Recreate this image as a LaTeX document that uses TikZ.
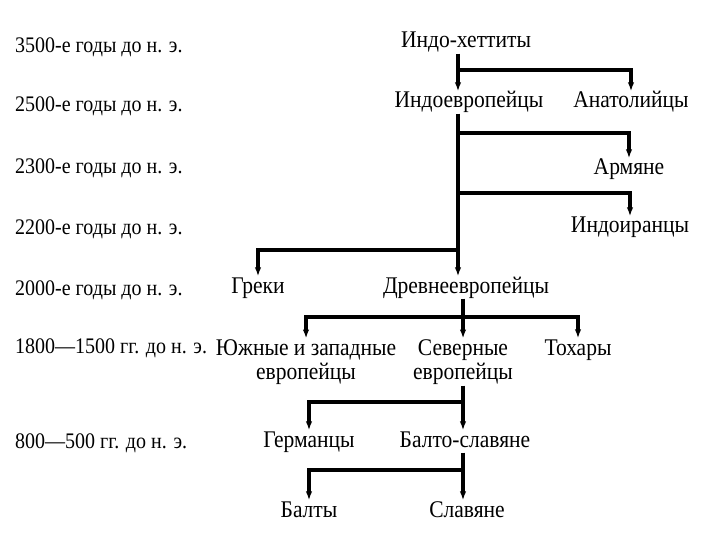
\documentclass[tikz,border=0pt]{standalone}
\usepackage{fontspec}
\setmainfont[FakeStretch=0.9]{Liberation Serif}
\usetikzlibrary{arrows.meta, positioning, calc}
\tikzstyle{tribe} = [anchor=base, inner sep=0.5pt, text height=16pt, text depth=5pt, font=\fontsize{24}{25}\selectfont, align=center]
\tikzstyle{tribe2} = [tribe, anchor=north, text height=, text depth=]
\tikzstyle{era} = [anchor=base west, inner sep=0pt, font=\fontsize{22.3}{24}\selectfont]
\tikzstyle{bar} = [line width=3.4pt]
\tikzstyle{link} = [bar, -{Latex[length=9pt,width=6.5pt]}]

\begin{document}
\begin{tikzpicture}[x=1bp, y=-1bp]
  \useasboundingbox[fill=white] (0,0) rectangle (720,540);

  % time scale
  \node[era] (e1) at (15,53) {3500-е годы до н. э.};
  \node[era] (e2) at (15,112) {2500-е годы до н. э.};
  \node[era] (e3) at (15,174) {2300-е годы до н. э.};
  \node[era] (e4) at (15,235) {2200-е годы до н. э.};
  \node[era] (e5) at (15,295) {2000-е годы до н. э.};
  \node[era] (e6) at (15,353) {1800—1500 гг. до н. э.};
  \node[era] (e7) at (15,448) {800—500 гг. до н. э.};

  % peoples
  \node[tribe] (ih) at (466,48) {Индо-хеттиты};
  \node[tribe] (ie) at (469,108) {Индоевропейцы};
  \node[tribe] (an) at (631,108) {Анатолийцы};
  \node[tribe] (ar) at (629,175) {Армяне};
  \node[tribe] (ii) at (630,233) {Индоиранцы};
  \node[tribe] (gr) at (258,293) {Греки};
  \node[tribe] (de) at (466,293) {Древнеевропейцы};
  \node[tribe2] (yu) at (306,338.5) {Южные и западные\\европейцы};
  \node[tribe2] (se) at (463,338.5) {Северные\\европейцы};
  \node[tribe] (to) at (578,355) {Тохары};
  \node[tribe] (ge) at (309,447) {Германцы};
  \node[tribe] (bs) at (465,447) {Балто-славяне};
  \node[tribe] (ba) at (309,517) {Балты};
  \node[tribe] (sl) at (467,517) {Славяне};

  % branching points
  \coordinate (j1) at (458,70);
  \coordinate (j2) at (458,133);
  \coordinate (j3) at (458,193);
  \coordinate (j4) at (458,250);
  \coordinate (j5) at (463,317);
  \coordinate (j6) at (463,402);
  \coordinate (j7) at (463,470);

  \draw[link] (ih.south -| j1) -- (ie.north -| j1);
  \draw[link] (j1) -| (an.north);
  \draw[bar] (ie.south -| j2) -- (j4);
  \draw[link] (j2) -| (ar.north);
  \draw[link] (j3) -| (ii.north);
  \draw[link] (j4) -| (gr.north);
  \draw[link] (j4) -- (de.north -| j4);
  \draw[bar] (de.south -| j5) -- (j5);
  \draw[link] (j5) -| (yu.north);
  \draw[link] (j5) -- (se.north -| j5);
  \draw[link] (j5) -| (to.north);
  \draw[bar] (se.south -| j6) -- (j6);
  \draw[link] (j6) -| (ge.north);
  \draw[link] (j6) -- (bs.north -| j6);
  \draw[bar] (bs.south -| j7) -- (j7);
  \draw[link] (j7) -| (ba.north);
  \draw[link] (j7) -- (sl.north -| j7);
\end{tikzpicture}
\end{document}
